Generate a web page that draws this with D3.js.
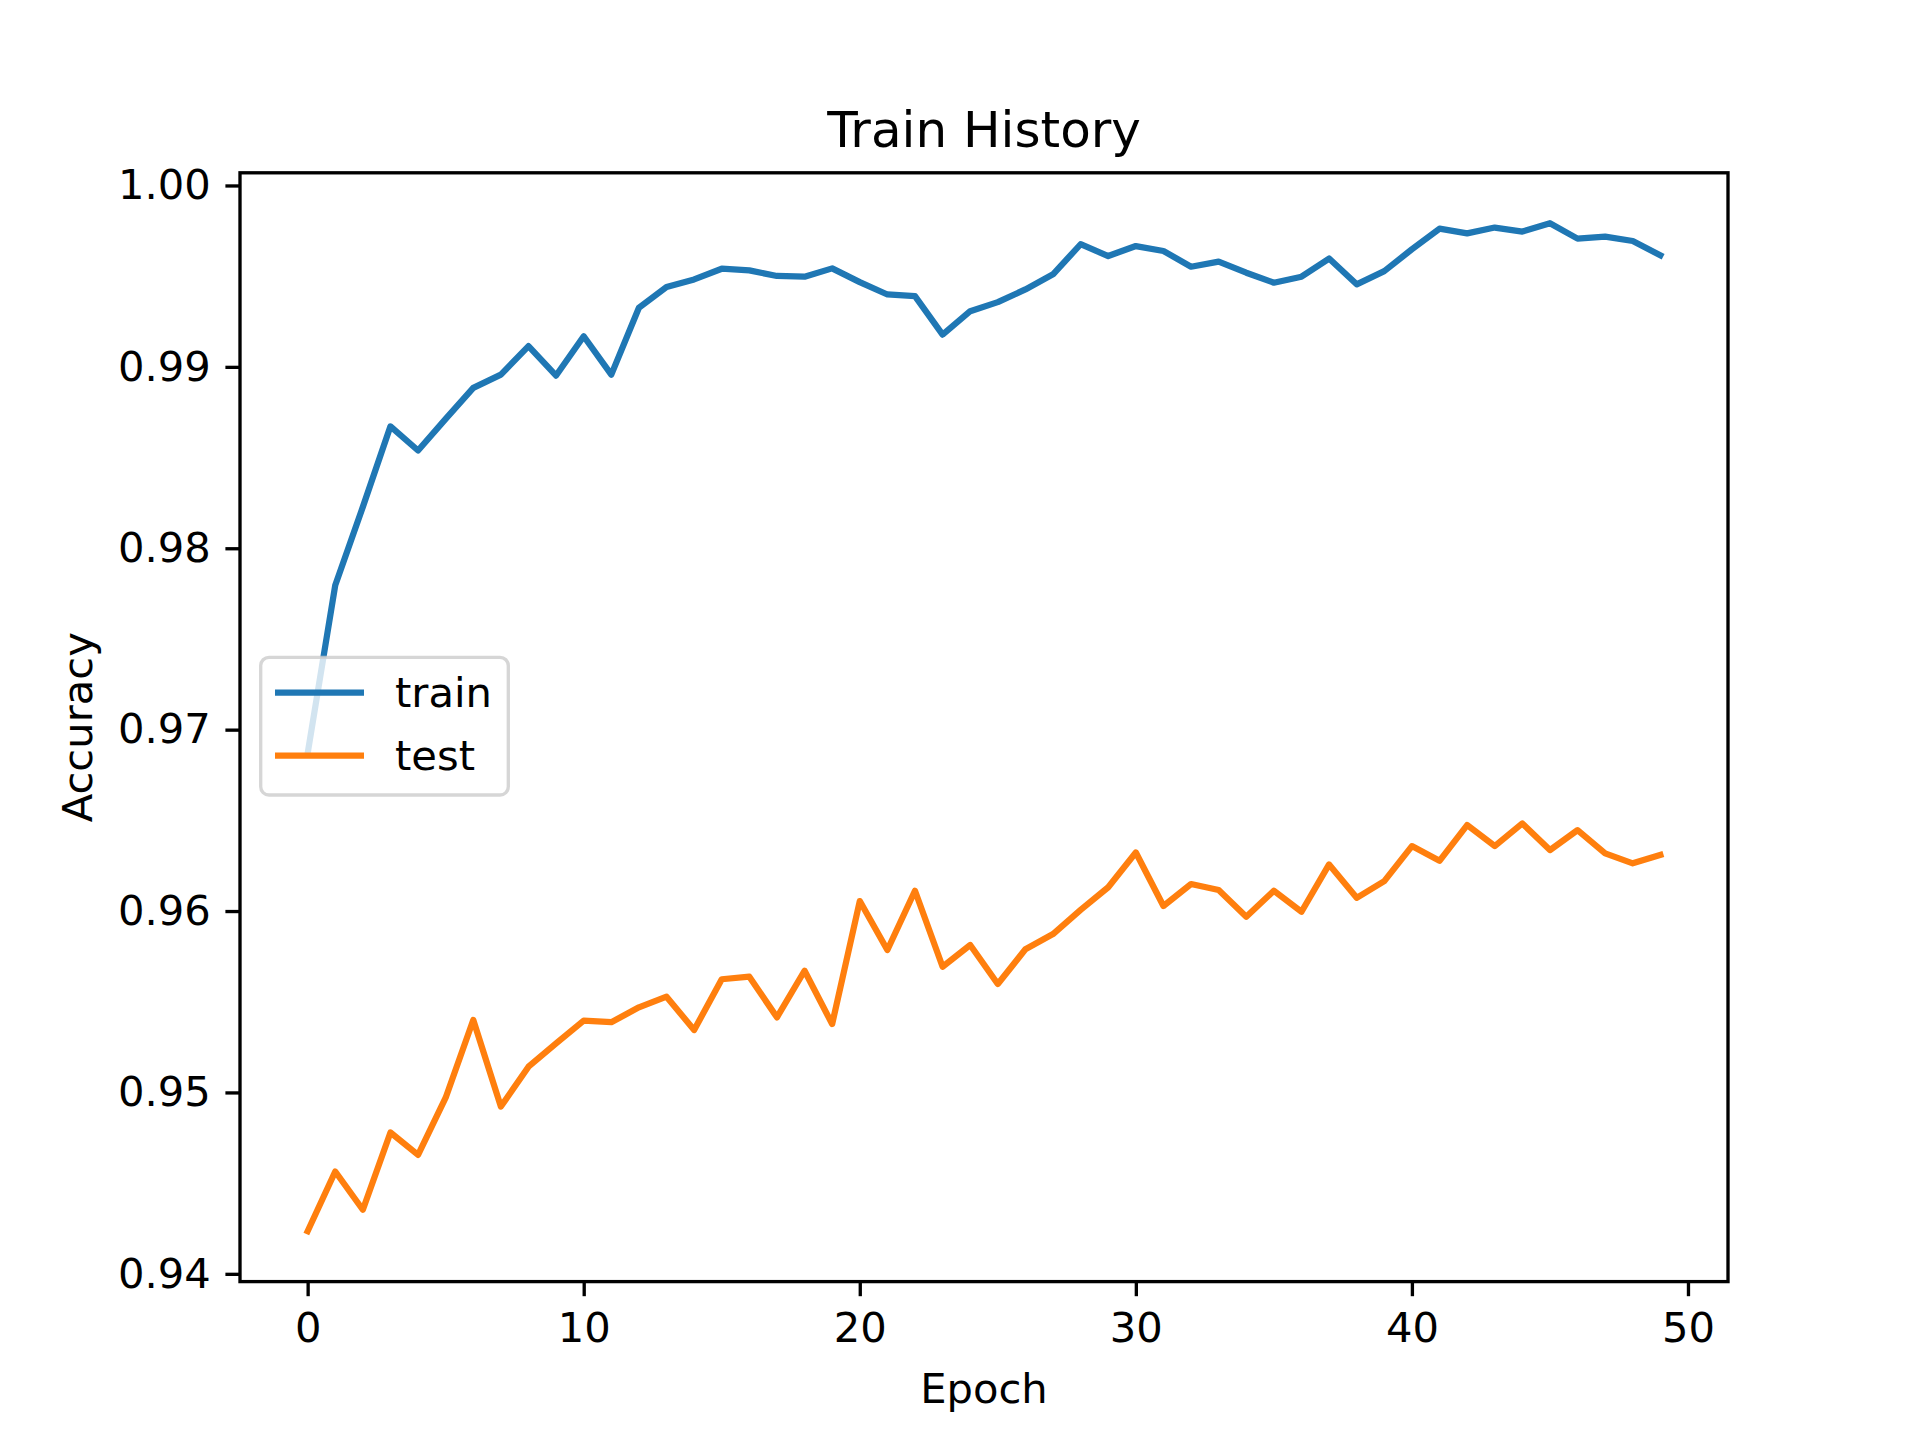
<!DOCTYPE html>
<html>
<head>
<meta charset="utf-8">
<script src="https://cdn.jsdelivr.net/npm/d3@7"></script>
<style>
  body { margin: 0; background: #fff; }
  svg { display: block; font-family: "DejaVu Sans", sans-serif; }
</style>
</head>
<body>
<svg id="chart" width="1920" height="1440"></svg>
<script>
// accuracy per epoch
let epochs = d3.range(50)
let train = [
  0.96869, 0.97796, 0.98228, 0.98672, 0.98539, 0.98713, 0.98884, 0.98957, 0.99114, 0.98952,
  0.99169, 0.98957, 0.99326, 0.99440, 0.99482, 0.99541, 0.99532, 0.99501, 0.99497, 0.99543,
  0.99467, 0.99399, 0.99390, 0.99178, 0.99307, 0.99357, 0.99427, 0.99510, 0.99676, 0.99611,
  0.99666, 0.99639, 0.99552, 0.99580, 0.99519, 0.99464, 0.99497, 0.99597, 0.99455, 0.99528,
  0.99648, 0.99762, 0.99736, 0.99768, 0.99746, 0.99792, 0.99707, 0.99718, 0.99694, 0.99615
]
let test = [
  0.94235, 0.94564, 0.94353, 0.94779, 0.94656, 0.94971, 0.95399, 0.94922, 0.95142, 0.95271,
  0.95396, 0.95387, 0.95469, 0.95528, 0.95344, 0.95624, 0.95638, 0.95414, 0.95671, 0.95377,
  0.96055, 0.95785, 0.96112, 0.95693, 0.95813, 0.95598, 0.95789, 0.95873, 0.96006, 0.96131,
  0.96323, 0.96028, 0.96149, 0.96116, 0.95969, 0.96112, 0.95996, 0.96257, 0.96073, 0.96165,
  0.96358, 0.96277, 0.96474, 0.96358, 0.96483, 0.96336, 0.96446, 0.96318, 0.96263, 0.96309
]
let xTicks = [0, 10, 20, 30, 40, 50]
let yTicks = [0.94, 0.95, 0.96, 0.97, 0.98, 0.99, 1.00]
let seriesNames = ["train", "test"]
let seriesColors = ["#1f77b4", "#ff7f0e"]

let axLeft = 240, axRight = 1728, axTop = 172.8, axBottom = 1281.6
let FONT = 41.67, TICK = 14.6, LW = 3.33

function padded(ext) {
  let r = ext[1] - ext[0]
  return [ext[0] - 0.05 * r, ext[1] + 0.05 * r]
}

let svg = d3.select("#chart")
let x = d3.scaleLinear(padded(d3.extent(epochs)), [axLeft, axRight])
let y = d3.scaleLinear(padded(d3.extent(train.concat(test))), [axBottom, axTop])

// lines
let line = d3.line().x((d, i) => x(epochs[i])).y(d => y(d))
let lines = svg.append("g")
;[train, test].forEach((s, k) => {
  lines.append("path")
    .attr("d", line(s))
    .attr("fill", "none")
    .attr("stroke", seriesColors[k])
    .attr("stroke-width", 6.25)
    .attr("stroke-linejoin", "round")
    .attr("stroke-linecap", "square")
})

// axes
function styleAxis(g) {
  g.select(".domain").remove()
  g.selectAll(".tick line").attr("stroke", "black").attr("stroke-width", LW)
  g.selectAll(".tick text").attr("fill", "black").attr("font-size", FONT)
    .attr("font-family", "DejaVu Sans, sans-serif")
}
svg.append("g")
  .attr("transform", `translate(0, ${axBottom})`)
  .call(d3.axisBottom(x).tickValues(xTicks).tickSize(TICK).tickPadding(16))
  .call(styleAxis)
svg.append("g")
  .attr("transform", `translate(${axLeft}, 0)`)
  .call(d3.axisLeft(y).tickValues(yTicks).tickFormat(d3.format(".2f")).tickSize(TICK).tickPadding(14.6))
  .call(styleAxis)

// frame
svg.append("rect")
  .attr("x", axLeft).attr("y", axTop)
  .attr("width", axRight - axLeft).attr("height", axBottom - axTop)
  .attr("fill", "none").attr("stroke", "black").attr("stroke-width", LW)
  .attr("stroke-linejoin", "miter")

// texts
svg.append("text")
  .attr("x", (axLeft + axRight) / 2).attr("y", 147)
  .attr("text-anchor", "middle").attr("font-size", 50)
  .text("Train History")
svg.append("text")
  .attr("x", (axLeft + axRight) / 2).attr("y", 1403)
  .attr("text-anchor", "middle").attr("font-size", FONT)
  .text("Epoch")
svg.append("text")
  .attr("transform", `translate(92, ${(axTop + axBottom) / 2}) rotate(-90)`)
  .attr("text-anchor", "middle").attr("font-size", FONT)
  .text("Accuracy")

// legend
let legend = svg.append("g")
legend.append("rect")
  .attr("x", 260.7).attr("y", 657.3)
  .attr("width", 247.6).attr("height", 137.7)
  .attr("rx", 8.3).attr("ry", 8.3)
  .attr("fill", "white").attr("fill-opacity", 0.8)
  .attr("stroke", "#cccccc").attr("stroke-opacity", 0.8).attr("stroke-width", LW)
seriesNames.forEach((name, k) => {
  let cy = 692.7 + k * 63
  legend.append("line")
    .attr("x1", 275).attr("x2", 364).attr("y1", cy).attr("y2", cy)
    .attr("stroke", seriesColors[k]).attr("stroke-width", 6.25)
  legend.append("text")
    .attr("x", 395).attr("y", cy + 14)
    .attr("font-size", FONT)
    .text(name)
})
</script>
</body>
</html>
